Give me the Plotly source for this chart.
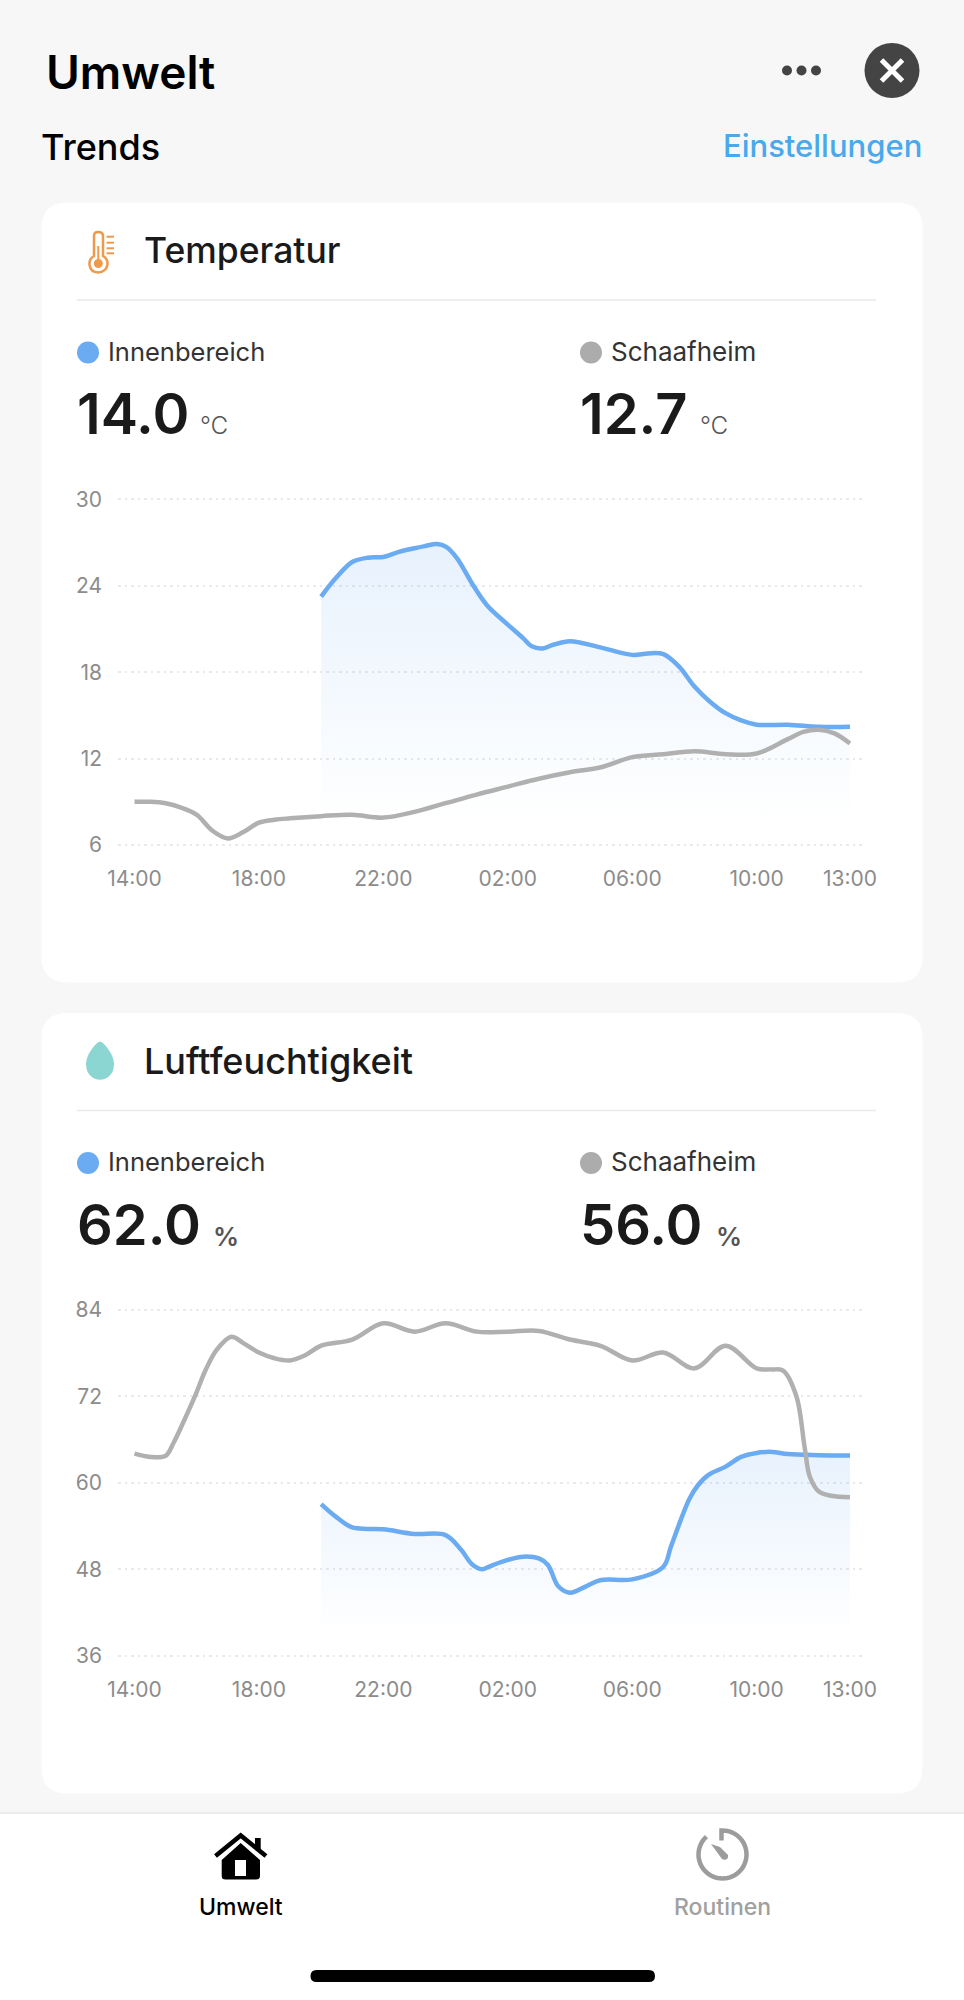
import re
import numpy as np
import plotly.graph_objects as go

W, H = 964, 2000

# hours since 14:00
tick_hours = [0, 4, 8, 12, 16, 20, 23]
tick_labels = ['14:00', '18:00', '22:00', '02:00', '06:00', '10:00', '13:00']

temp_ticks = [6, 12, 18, 24, 30]
hum_ticks = [36, 48, 60, 72, 84]

temp_out_h = [0, 0.5, 1, 1.5, 2, 2.5, 3, 3.5, 4, 4.5, 5, 6, 7, 8, 9, 10, 11, 12, 13, 14, 15, 16, 17, 18, 19, 20, 21, 21.5, 22, 22.5, 23]
temp_out = [9.0, 9.0, 8.9, 8.6, 8.1, 7.0, 6.45, 6.9, 7.55, 7.75, 7.85, 8.0, 8.1, 7.9, 8.3, 8.9, 9.5, 10.05, 10.6, 11.05, 11.4, 12.1, 12.3, 12.5, 12.3, 12.35, 13.35, 13.85, 14.0, 13.75, 13.05]

temp_in_h = [6, 6.5, 7, 7.5, 8, 8.5, 9, 9.33, 9.73, 10.02, 10.37, 10.88, 11.33, 12, 12.5, 12.77, 13.12, 13.46, 14, 15, 16, 16.5, 17, 17.5, 18, 18.5, 19, 19.5, 20, 21, 22, 23]
temp_in = [23.25, 24.6, 25.65, 25.95, 26.0, 26.35, 26.6, 26.75, 26.9, 26.7, 25.9, 24.05, 22.65, 21.3, 20.35, 19.8, 19.65, 19.9, 20.15, 19.7, 19.2, 19.3, 19.25, 18.4, 17.0, 15.95, 15.15, 14.65, 14.35, 14.35, 14.2, 14.2]

hum_out_h = [0, 0.5, 1, 1.25, 1.6, 1.94, 2.29, 2.63, 3.11, 3.5, 4, 4.5, 5, 5.5, 6, 7, 8, 9, 10, 11, 12, 13, 14, 15, 16, 17, 18, 19, 20, 20.5, 20.85, 21.28, 21.54, 21.71, 22, 22.4, 23]
hum_out = [64.05, 63.6, 63.75, 65.5, 68.7, 72, 75.7, 78.4, 80.3, 79.4, 78.1, 77.3, 77, 77.75, 79.05, 79.9, 82.15, 81, 82.15, 81, 81, 81.1, 79.9, 79, 77, 78.1, 75.9, 79.05, 75.9, 75.75, 75.6, 72, 65, 60.85, 58.8, 58.2, 58]

hum_in_h = [6, 6.5, 7, 7.5, 8, 9, 10, 10.5, 10.85, 11.17, 11.5, 12, 12.5, 13, 13.29, 13.63, 14, 14.5, 15, 16, 17, 17.24, 17.6, 17.84, 18.1, 18.45, 19, 19.5, 20, 20.5, 21, 22, 23]
hum_in = [57.05, 55.2, 53.8, 53.6, 53.55, 52.9, 52.75, 50.7, 48.7, 48.0, 48.55, 49.3, 49.75, 49.5, 48.6, 45.6, 44.75, 45.6, 46.5, 46.6, 48.35, 51.1, 55.3, 57.8, 59.6, 61.1, 62.25, 63.6, 64.15, 64.3, 64, 63.85, 63.8]

BLUE = '#6aabf1'
GRAY = '#b0b0b0'
FONT = 'Inter'


def X(v):
    return v / W


def Y(v):
    return 1 - v / H


def to_paper(d):
    # pixel path -> paper path
    return re.sub(r'(-?[\d.]+) (-?[\d.]+)', lambda m: f'{X(float(m[1])):.5f} {Y(float(m[2])):.5f}', d)


shapes = []
annotations = []


def add_path(d, fill=None, line=None, width=0):
    shapes.append(dict(type='path', path=to_paper(d), xref='paper', yref='paper', layer='below',
                       fillcolor=fill or 'rgba(0,0,0,0)', line=dict(color=line or 'rgba(0,0,0,0)', width=width)))


def add_circle(cx, cy, r, fill=None, line=None, width=0):
    shapes.append(dict(type='circle', xref='paper', yref='paper', layer='below',
                       x0=X(cx - r), x1=X(cx + r), y0=Y(cy + r), y1=Y(cy - r),
                       fillcolor=fill or 'rgba(0,0,0,0)', line=dict(color=line or 'rgba(0,0,0,0)', width=width)))


def round_rect(x0, y0, x1, y1, r):
    return (f'M {x0 + r} {y0} L {x1 - r} {y0} Q {x1} {y0} {x1} {y0 + r} L {x1} {y1 - r} Q {x1} {y1} {x1 - r} {y1} '
            f'L {x0 + r} {y1} Q {x0} {y1} {x0} {y1 - r} L {x0} {y0 + r} Q {x0} {y0} {x0 + r} {y0} Z')


def text(s, x, y, size, color='#1a1a1a', weight=400, anchor='left'):
    annotations.append(dict(text=s, x=X(x), y=Y(y), xref='paper', yref='paper', showarrow=False,
                            xanchor=anchor, yanchor='middle', borderpad=0,
                            font=dict(family=FONT, size=size, color=color, weight=weight)))


def thermometer():
    c = '#ee9a4d'
    add_path('M 94 256 L 94 236 Q 94 232 98 232 Q 103 232 103 236 L 103 256 '
             'C 110 260 109 272 98 272.5 C 88 272 87 260 94 256 Z', line=c, width=2.5)
    add_circle(98.3, 263.5, 4.5, fill=c)
    add_path('M 98.3 246 L 98.3 262', line=c, width=2)
    for ty in [236.7, 242.7, 248.3, 253.3]:
        add_path(f'M 106.5 {ty} L 114 {ty}', line=c, width=2)


def drop():
    add_path('M 100 1041.5 C 103 1041.5 114 1054 114 1064 C 114 1085 86 1085 86 1064 '
             'C 86 1054 97 1041.5 100 1041.5 Z', fill='#8bd6d2')


def house():
    add_path('M 215.5 1856 L 240.7 1835.5 L 266 1856', line='#000000', width=4.5)
    add_path('M 255 1838 L 260.7 1838 L 260.7 1851 L 255 1847 Z', fill='#000000')
    add_path('M 240.7 1843 L 260 1860 L 260 1876 Q 260 1879.5 256 1879.5 L 225.5 1879.5 Q 221.7 1879.5 221.7 1876 '
             'L 221.7 1860 Z M 235 1860 L 235 1876 L 246 1876 L 246 1860 Z', fill='#000000')


def timer():
    c = '#9c9c9c'
    cx, cy, r = 722.5, 1854.5, 24
    ang = np.radians(np.arange(0, 322, 6))
    pts = [f'{cx + r * np.sin(a):.2f} {cy - r * np.cos(a):.2f}' for a in ang]
    d = f'M {cx - 1} {cy - 14} L {cx - 1} {cy - r} L ' + ' L '.join(pts)
    add_path(d, line=c, width=4.5)
    add_path('M 711 1844 L 720 1847 L 728 1855 C 729 1859 725 1861 722 1859 Z', fill=c)


# page pieces
for y0, y1 in [(202.5, 982.5), (1013, 1793.5)]:
    add_path(round_rect(41.5, y0, 922.5, y1, 26), fill='#ffffff')
add_path('M 0 1813 L 964 1813 L 964 2000 L 0 2000 Z', fill='#ffffff')
add_path('M 0 1813 L 964 1813', line='#e8e8e8', width=1.5)
add_path(round_rect(310.5, 1970, 655, 1982, 6), fill='#000000')

text('Umwelt', 45, 72, 46, color='#000000', weight=600)
text('Trends', 40, 147, 36, color='#000000', weight=500)
text('Einstellungen', 923, 145, 31, color='#4aa8ec', weight=500, anchor='right')
for dx in [787, 801.5, 816]:
    add_circle(dx, 70.5, 5, fill='#444444')
add_circle(892, 70.5, 27.5, fill='#444444')
add_path('M 881.5 60 L 902.5 81 M 902.5 60 L 881.5 81', line='#ffffff', width=5)

thermometer()
drop()
house()
timer()
text('Umwelt', 240.5, 1906.5, 23, color='#000000', weight=500, anchor='center')
text('Routinen', 722.5, 1906.5, 23, color='#a0a0a0', weight=500, anchor='center')

# card headers
cards = [
    (0, 'Temperatur', '14.0', '12.7', '℃', 199, 699),
    (810.5, 'Luftfeuchtigkeit', '62.0', '56.0', '%', 212, 715),
]
for dy, title, v_in, v_out, unit, ux0, ux1 in cards:
    text(title, 143, 250 + dy, 36 if dy else 35.5, weight=500)
    add_path(f'M 77 {300 + dy} L 876 {300 + dy}', line='#e9e9e9', width=1.5)
    add_circle(88, 352.5 + dy, 11, fill=BLUE)
    add_circle(591, 352.5 + dy, 11, fill='#acacac')
    text('Innenbereich', 107, 351 + dy, 25.5, color='#333333')
    text('Schaafheim', 610, 351 + dy, 26, color='#333333')
    text(v_in, 75.5, 414 + dy, 56, weight=600)
    text(v_out, 578.5, 414 + dy, 56, weight=600)
    usize, ucol, uw = (24, '#555555', 300) if unit == '℃' else (26, '#555555', 600)
    text(unit, ux0, 426 + dy, usize, color=ucol, weight=uw)
    text(unit, ux1, 426 + dy, usize, color=ucol, weight=uw)


def add_pair(fig, hrs_in, vals_in, hrs_out, vals_out, grad, xa, ya):
    fig.add_trace(go.Scatter(x=hrs_in, y=vals_in, mode='lines', xaxis=xa, yaxis=ya,
                             line=dict(color=BLUE, width=4.5, shape='spline', smoothing=1.0),
                             fill='tozeroy',
                             fillgradient=dict(type='vertical', start=grad[0], stop=grad[1],
                                               colorscale=[[0, 'rgba(106,171,241,0.16)'], [1, 'rgba(106,171,241,0)']])))
    fig.add_trace(go.Scatter(x=hrs_out, y=vals_out, mode='lines', xaxis=xa, yaxis=ya,
                             line=dict(color=GRAY, width=4.5, shape='spline', smoothing=1.0)))


fig = go.Figure()
add_pair(fig, temp_in_h, temp_in, temp_out_h, temp_out, (27, 7.5), 'x', 'y')
add_pair(fig, hum_in_h, hum_in, hum_out_h, hum_out, (65, 39), 'x2', 'y2')

xaxis = dict(range=[-0.53, 23.386], domain=[X(118), X(862)], tickvals=tick_hours, ticktext=tick_labels,
             showgrid=False, zeroline=False, showline=False, ticks='', ticklabelstandoff=18, automargin=False,
             tickfont=dict(family=FONT, size=21, color='#8c8c8c'))
yaxis = dict(showgrid=True, gridcolor='#e9e9e9', gridwidth=1.5, griddash='2.5px,4px', zeroline=False, showline=False,
             ticks='', ticklabelstandoff=15, automargin=False, tickfont=dict(family=FONT, size=21, color='#8c8c8c'))

# ranges run a hair past the end ticks so the top and bottom gridlines get drawn
fig.update_layout(
    width=W, height=H, margin=dict(l=0, r=0, t=0, b=0),
    paper_bgcolor='#f7f7f7', plot_bgcolor='rgba(0,0,0,0)', showlegend=False,
    xaxis=xaxis,
    yaxis=dict(yaxis, range=[5.9, 30.1], tickvals=temp_ticks, domain=[Y(846.4), Y(497.9)]),
    xaxis2=dict(xaxis, anchor='y2'),
    yaxis2=dict(yaxis, range=[35.8, 84.2], tickvals=hum_ticks, domain=[Y(1657.1), Y(1308.6)], anchor='x2'),
    shapes=shapes, annotations=annotations,
)

fig.write_html('out.html', config=dict(displayModeBar=False), post_script="document.body.style.margin='0';")
